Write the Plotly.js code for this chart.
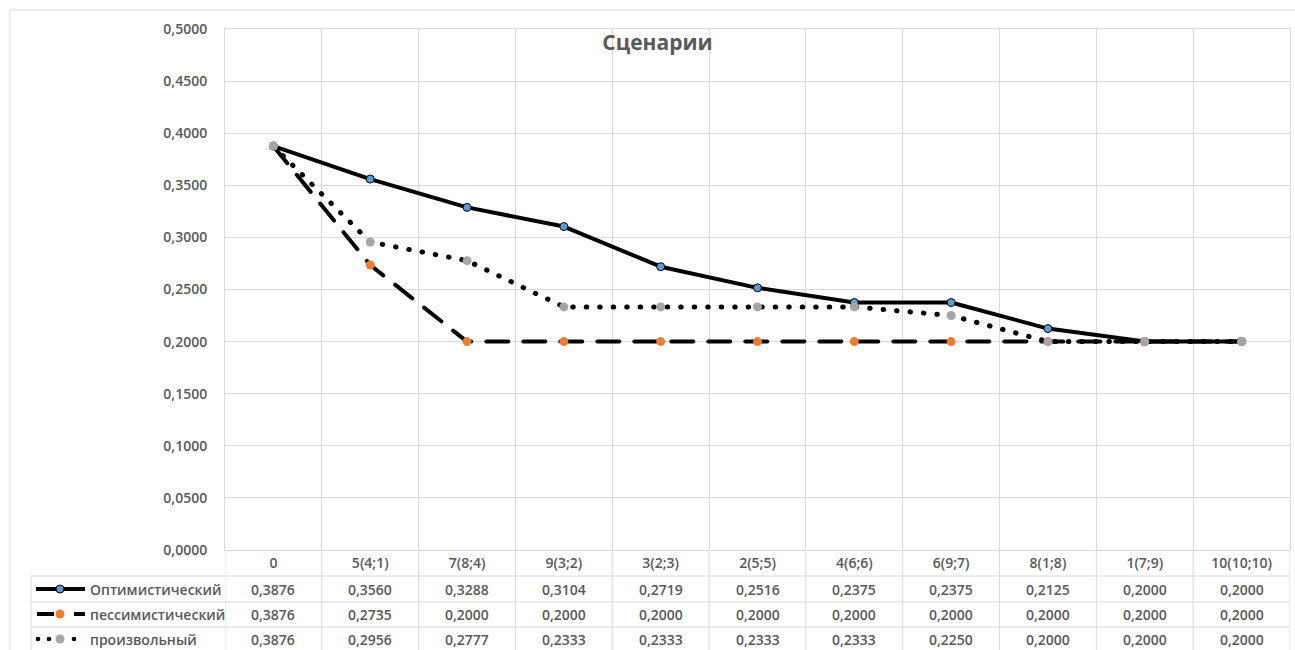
<!DOCTYPE html>
<html>
<head>
<meta charset="utf-8">
<script src="https://cdn.plot.ly/plotly-3.0.1.min.js"></script>
<style>
  html, body { margin: 0; padding: 0; background: #fff; }
  #chart { width: 1295px; height: 650px; }
  .scatterlayer .js-line { stroke-linecap: round; stroke-linejoin: round; }
</style>
</head>
<body>
<div id="chart"></div>
<script>
// ---- data ----
const categories = ['0', '5(4;1)', '7(8;4)', '9(3;2)', '3(2;3)', '2(5;5)', '4(6;6)', '6(9;7)', '8(1;8)', '1(7;9)', '10(10;10)'];
const optimistic = [0.3876, 0.3560, 0.3288, 0.3104, 0.2719, 0.2516, 0.2375, 0.2375, 0.2125, 0.2000, 0.2000];
const pessimistic = [0.3876, 0.2735, 0.2000, 0.2000, 0.2000, 0.2000, 0.2000, 0.2000, 0.2000, 0.2000, 0.2000];
const arbitrary = [0.3876, 0.2956, 0.2777, 0.2333, 0.2333, 0.2333, 0.2333, 0.2250, 0.2000, 0.2000, 0.2000];
const seriesNames = ['Оптимистический', 'пессимистический', 'произвольный'];
const chartTitle = 'Сценарии';

// ---- layout helpers (pixel -> paper) ----
const W = 1295, H = 650;
const L = 225, R = 1290, T = 29, B = 550;
const px = x => (x - L) / (R - L);
const py = y => (B - y) / (B - T);
const GRID = '#d9d9d9';
const TXT = '#595959';
const FONT = 'Open Sans, Liberation Sans, sans-serif';

const traces = [
  {
    x: categories, y: optimistic, name: seriesNames[0], type: 'scatter', mode: 'lines+markers',
    line: { color: '#000', width: 4 },
    marker: { color: '#5B9BD5', size: 8, line: { color: '#000', width: 1 } }
  },
  {
    x: categories, y: pessimistic, name: seriesNames[1], type: 'scatter', mode: 'lines+markers',
    line: { color: '#000', width: 4, dash: '22px,15px' },
    marker: { color: '#ED7D31', size: 9 }
  },
  {
    x: categories, y: arbitrary, name: seriesNames[2], type: 'scatter', mode: 'lines+markers',
    line: { color: '#000', width: 5, dash: '0.5px,13px' },
    marker: { color: '#A5A5A5', size: 9 }
  }
];

const shapes = [];
const annotations = [];

// outer chart border
shapes.push({ type: 'rect', xref: 'paper', yref: 'paper', x0: px(10), x1: px(1310), y0: py(10), y1: py(665),
  line: { color: GRID, width: 1 }, layer: 'below' });

// table vertical lines at category boundaries
for (let i = 0; i <= categories.length; i++) {
  shapes.push({ type: 'line', xref: 'x', yref: 'paper', x0: i - 0.5, x1: i - 0.5, y0: py(550), y1: py(655),
    line: { color: GRID, width: 1 } });
}
// table left border
shapes.push({ type: 'line', xref: 'paper', yref: 'paper', x0: px(31), x1: px(31), y0: py(576), y1: py(655),
  line: { color: GRID, width: 1 } });
// table horizontal lines
[576, 602, 627].forEach(y => {
  shapes.push({ type: 'line', xref: 'paper', yref: 'paper', x0: px(31), x1: 1, y0: py(y), y1: py(y),
    line: { color: GRID, width: 1 } });
});

const rowY = [589, 614, 639];
const seriesData = [optimistic, pessimistic, arbitrary];
const fmt = v => v.toFixed(4).replace('.', ',');

seriesData.forEach((arr, s) => {
  arr.forEach((v, i) => {
    annotations.push({ xref: 'x', yref: 'paper', x: i, y: py(rowY[s]), text: fmt(v), showarrow: false,
      xanchor: 'center', yanchor: 'middle', font: { family: FONT, size: 14, color: TXT, weight: 600 } });
  });
  annotations.push({ xref: 'paper', yref: 'paper', x: px(88), y: py(rowY[s]), text: seriesNames[s], showarrow: false,
    xanchor: 'left', yanchor: 'middle', font: { family: FONT, size: 14, color: TXT, weight: 600 } });
});

// legend keys
function circle(cx, cy, r, fill, lineColor, lw) {
  shapes.push({ type: 'circle', xref: 'paper', yref: 'paper', x0: px(cx - r), x1: px(cx + r), y0: py(cy + r), y1: py(cy - r),
    fillcolor: fill, line: { color: lineColor || fill, width: lw === undefined ? 0 : lw } });
}
function seg(x0, x1, y, w) {
  shapes.push({ type: 'line', xref: 'paper', yref: 'paper', x0: px(x0), x1: px(x1), y0: py(y), y1: py(y),
    line: { color: '#000', width: w } });
}
// optimistic
seg(36, 85, rowY[0], 4);
circle(60, rowY[0], 4, '#5B9BD5', '#000', 1);
// pessimistic
seg(37, 54, rowY[1], 4);
seg(74, 85, rowY[1], 4);
circle(60, rowY[1], 4.5, '#ED7D31');
// arbitrary
circle(38, rowY[2], 2.3, '#000');
circle(49, rowY[2], 2.3, '#000');
circle(74, rowY[2], 2.3, '#000');
circle(60, rowY[2], 4.5, '#A5A5A5');

const layout = {
  width: W, height: H,
  margin: { l: L, r: W - R, t: T, b: H - B },
  paper_bgcolor: '#fff', plot_bgcolor: '#fff',
  separators: ', ',
  showlegend: false,
  title: {
    text: '<b>' + chartTitle + '</b>', xref: 'container', yref: 'container',
    x: 657.5 / W, xanchor: 'center', y: 1 - 43 / H, yanchor: 'middle',
    font: { family: FONT, size: 21, color: TXT }
  },
  xaxis: {
    type: 'category', range: [-0.5, categories.length - 0.5], autorange: false,
    tickson: 'boundaries', showgrid: true, gridcolor: GRID, gridwidth: 1,
    showline: true, linecolor: GRID, mirror: true, ticks: '', zeroline: false,
    tickfont: { family: FONT, size: 14, color: TXT, weight: 600 }, fixedrange: true
  },
  yaxis: {
    range: [0, 0.5], autorange: false, dtick: 0.05, tick0: 0, tickformat: '.4f', showgrid: true, gridcolor: GRID, gridwidth: 1,
    showline: true, linecolor: GRID, mirror: true, ticks: '', zeroline: false, ticklabelstandoff: 14,
    tickfont: { family: FONT, size: 14, color: TXT, weight: 600 }, fixedrange: true
  },
  shapes: shapes,
  annotations: annotations
};

Plotly.newPlot('chart', traces, layout, { displayModeBar: false, staticPlot: true });
</script>
</body>
</html>
